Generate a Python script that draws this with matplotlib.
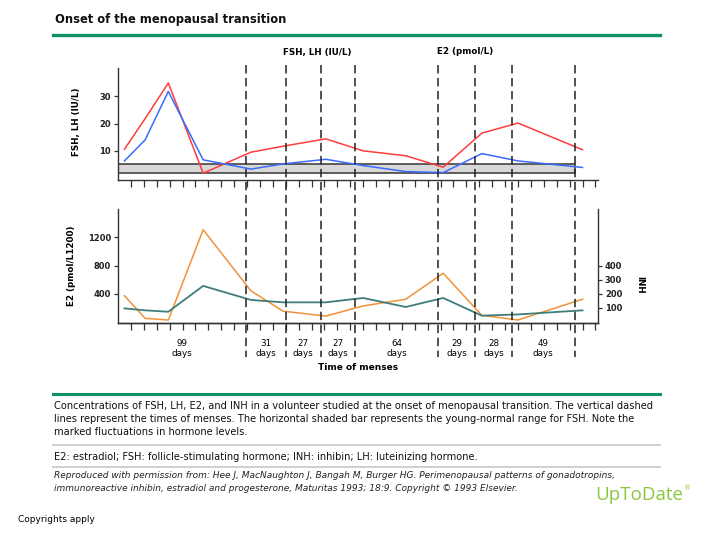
import matplotlib
matplotlib.use("Agg")
import matplotlib.pyplot as plt
from matplotlib.lines import Line2D
from matplotlib import transforms

# Dados (dias desde a primeira menstruação)
intervalos = [99, 31, 27, 27, 64, 29, 28, 49]
menses = [0]
for d in intervalos:
    menses.append(menses[-1] + d)

dias = [5, 21, 39, 66, 103, 128, 161, 190, 223, 252, 282, 310, 360]
fsh = [10.6, 21.8, 34.9, 1.8, 9.5, 11.7, 14.4, 10.0, 8.2, 4.0, 16.5, 20.2, 10.4]
lh = [6.3, 14.0, 31.8, 6.7, 3.3, 5.2, 6.9, 4.6, 2.4, 2.0, 9.0, 6.3, 3.9]
e2 = [370, 48, 24, 1310, 440, 150, 80, 225, 320, 690, 90, 25, 320]
inh = [95, 81, 71, 255, 155, 138, 138, 169, 105, 169, 43, 52, 81]

faixa_fsh = (1.8, 5.3)  # faixa normal jovem de FSH

W, H = 720, 540
fig = plt.figure(figsize=(7.2, 5.4), dpi=100)
plt.rcParams['font.family'] = 'DejaVu Sans'


def fx(x):
    return x / W


def fy(y):
    return 1 - y / H


cor_eixo = '#333333'
verde = '#0e9362'

# Título e linha verde
fig.text(fx(55), fy(20), 'Onset of the menopausal transition', fontsize=8.3,
         fontweight='bold', va='center', ha='left', color='#111111')
fig.add_artist(Line2D([fx(53), fx(660)], [fy(34.7), fy(34.7)], color=verde, lw=2.4))

fig.text(fx(283), fy(52), 'FSH, LH (IU/L)', fontsize=6.3, fontweight='bold', va='center')
fig.text(fx(437), fy(52), 'E2 (pmol/L)', fontsize=6.3, fontweight='bold', va='center')

# Gráfico superior: FSH e LH
ax1 = fig.add_axes([fx(118), fy(180), (598 - 118) / W, (180 - 68) / H])
ax1.set_xlim(0, 372)
ax1.set_ylim(-0.7, 40.4)
ax1.fill_between([menses[0], menses[-1]], faixa_fsh[0], faixa_fsh[1],
                 facecolor='#d8d8d8', edgecolor='#444444', lw=1.2, zorder=1)
ax1.plot(dias, fsh, color='#ff3b3b', lw=1.1, zorder=3)
ax1.plot(dias, lh, color='#3a6bff', lw=1.1, zorder=3)
ax1.set_yticks([10, 20, 30])

# Gráfico inferior: E2 e INH
ax2 = fig.add_axes([fx(118), fy(322.7), (598 - 118) / W, (322.7 - 209) / H])
ax2.set_xlim(0, 372)
ax2.set_ylim(-14, 1605)
ax2.plot(dias, e2, color='#f0923a', lw=1.1, zorder=3)
ax2.set_yticks([400, 800, 1200])
ax3 = ax2.twinx()
ax3.set_ylim(-7, 802.5)
ax3.plot(dias, inh, color='#3f7c7c', lw=1.3, zorder=3)
ax3.set_yticks([100, 200, 300, 400])

for ax in (ax1, ax2, ax3):
    ax.set_xticks(range(10, 371, 10))
    ax.set_xticklabels([])
    ax.tick_params(axis='x', direction='out', length=5, width=0.9, color=cor_eixo)
    ax.tick_params(axis='y', direction='out', length=3, width=0.9, color=cor_eixo,
                   labelsize=6, pad=2, labelcolor='#222222')
    for lab in ax.get_yticklabels():
        lab.set_fontweight('bold')
    ax.spines['top'].set_visible(False)
    for s in ax.spines.values():
        s.set_color(cor_eixo)
        s.set_linewidth(1.0)
    ax.patch.set_alpha(0)
ax1.spines['right'].set_visible(False)
ax2.spines['right'].set_visible(False)
ax3.spines['left'].set_visible(False)

fig.text(fx(77), fy(122), 'FSH, LH (IU/L)', rotation=90, fontsize=6.3,
         fontweight='bold', ha='center', va='center')
fig.text(fx(72), fy(266), 'E2 (pmol/L1200)', rotation=90, fontsize=6.3,
         fontweight='bold', ha='center', va='center')
fig.text(fx(640), fy(285), 'INH', rotation=-90, fontsize=6.3,
         fontweight='bold', ha='center', va='center')

# Linhas tracejadas (menstruações)
trans = transforms.blended_transform_factory(ax1.transData, fig.transFigure)
for m in menses[1:]:
    fig.add_artist(Line2D([m, m], [fy(65), fy(357)], transform=trans,
                          color='#222222', lw=1.1, dashes=(5.5, 3)))

for i, d in enumerate(intervalos):
    c = (menses[i] + menses[i + 1]) / 2
    fig.text(c, fy(343), str(d), transform=trans, fontsize=6.3, ha='center', va='center')
    fig.text(c, fy(353.5), 'days', transform=trans, fontsize=6.3, ha='center', va='center')

fig.text(fx(358), fy(368), 'Time of menses', fontsize=6.5, fontweight='bold',
         ha='center', va='center')

# Legenda
fig.add_artist(Line2D([fx(53), fx(660)], [fy(394), fy(394)], color=verde, lw=2.2))
legenda = ('Concentrations of FSH, LH, E2, and INH in a volunteer studied at the onset of menopausal transition. The vertical dashed\n'
           'lines represent the times of menses. The horizontal shaded bar represents the young-normal range for FSH. Note the\n'
           'marked fluctuations in hormone levels.')
fig.text(fx(54), fy(401), legenda, fontsize=7.1, va='top', ha='left',
         linespacing=1.35, color='#111111')
fig.add_artist(Line2D([fx(53), fx(660)], [fy(445), fy(445)], color='#cccccc', lw=1.3))
fig.text(fx(54), fy(456.5), 'E2: estradiol; FSH: follicle-stimulating hormone; INH: inhibin; LH: luteinizing hormone.',
         fontsize=7.1, va='center', ha='left', color='#111111')
fig.add_artist(Line2D([fx(53), fx(660)], [fy(467), fy(467)], color='#cccccc', lw=1.3))
ref = ('Reproduced with permission from: Hee J, MacNaughton J, Bangah M, Burger HG. Perimenopausal patterns of gonadotropins,\n'
       'immunoreactive inhibin, estradiol and progesterone, Maturitas 1993; 18:9. Copyright \u00a9 1993 Elsevier.')
fig.text(fx(54), fy(471.5), ref, fontsize=6.5, style='italic', va='top', ha='left',
         linespacing=1.45, color='#222222')

fig.text(fx(683), fy(495), 'UpToDate', fontsize=13.5, color='#8cc63f', ha='right',
         va='center', family='Open Sans')
fig.text(fx(684), fy(488), '\u00ae', fontsize=5, color='#8cc63f', ha='left', va='center')
fig.text(fx(18), fy(520), 'Copyrights apply', fontsize=6.5, ha='left', va='center')

fig.savefig('out.png', dpi=100)
